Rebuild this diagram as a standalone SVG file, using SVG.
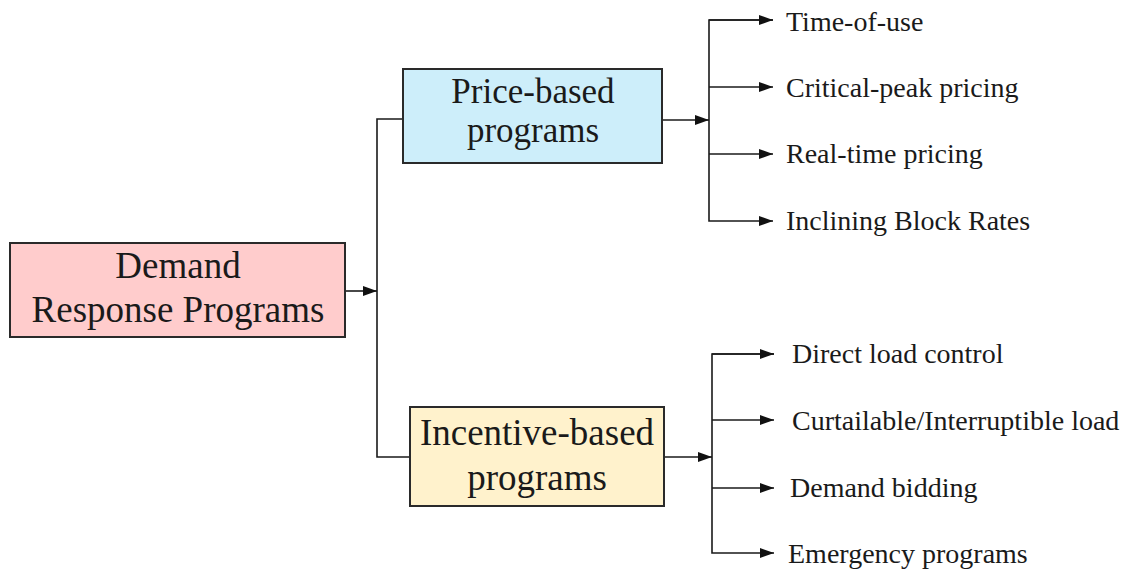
<svg xmlns="http://www.w3.org/2000/svg" width="1131" height="572" viewBox="0 0 1131 572">
<defs>
<marker id="ah" markerWidth="14" markerHeight="10" refX="14" refY="5" orient="auto" markerUnits="userSpaceOnUse">
<path d="M0,0 L14,5 L0,10 Z" fill="#111"/>
</marker>
<style>
.box{stroke:#2a2a2a;stroke-width:2}
.bt{font-family:"Liberation Serif","Times New Roman",serif;font-size:37px;fill:#1a1a1a;text-anchor:middle}
.lt{font-family:"Liberation Serif","Times New Roman",serif;font-size:28px;fill:#1a1a1a}
.ln{fill:none;stroke:#1a1a1a;stroke-width:1.6}
</style>
</defs>
<rect width="1131" height="572" fill="#fff"/>
<g id="connectors">
<line class="ln" x1="346" y1="291" x2="377" y2="291" marker-end="url(#ah)"/>
<polyline class="ln" points="403,119 377,119 377,457 410,457"/>
<line class="ln" x1="662" y1="120" x2="709" y2="120" marker-end="url(#ah)"/>
<polyline class="ln" points="773,20 709,20 709,221 773,221" marker-end="url(#ah)"/>
<line class="ln" x1="709" y1="20" x2="773" y2="20" marker-end="url(#ah)"/>
<line class="ln" x1="709" y1="87" x2="773" y2="87" marker-end="url(#ah)"/>
<line class="ln" x1="709" y1="154" x2="773" y2="154" marker-end="url(#ah)"/>
<line class="ln" x1="664" y1="457" x2="712" y2="457" marker-end="url(#ah)"/>
<polyline class="ln" points="774,354 712,354 712,553 774,553" marker-end="url(#ah)"/>
<line class="ln" x1="712" y1="354" x2="774" y2="354" marker-end="url(#ah)"/>
<line class="ln" x1="712" y1="420" x2="774" y2="420" marker-end="url(#ah)"/>
<line class="ln" x1="712" y1="488" x2="774" y2="488" marker-end="url(#ah)"/>
</g>
<g id="node-demand">
<rect class="box" x="10" y="243" width="335" height="94" fill="#ffcccc"/>
<text class="bt" x="178" y="278">Demand</text>
<text class="bt" x="178" y="322">Response Programs</text>
</g>
<g id="node-price">
<rect class="box" x="403" y="69" width="259" height="94" fill="#cdeefa"/>
<text class="bt" x="533" y="103" style="font-size:35px">Price-based</text>
<text class="bt" x="533" y="142" style="font-size:35px">programs</text>
</g>
<g id="node-incentive">
<rect class="box" x="410" y="407" width="254" height="99" fill="#fff2cc"/>
<text class="bt" x="537" y="445">Incentive-based</text>
<text class="bt" x="537" y="490">programs</text>
</g>
<g id="node-tou"><text class="lt" x="786" y="31">Time-of-use</text></g>
<g id="node-cpp"><text class="lt" x="786" y="97">Critical-peak pricing</text></g>
<g id="node-rtp"><text class="lt" x="786" y="163">Real-time pricing</text></g>
<g id="node-ibr"><text class="lt" x="786" y="230">Inclining Block Rates</text></g>
<g id="node-dlc"><text class="lt" x="792" y="363">Direct load control</text></g>
<g id="node-cil"><text class="lt" x="792" y="430">Curtailable/Interruptible load</text></g>
<g id="node-db"><text class="lt" x="790" y="497">Demand bidding</text></g>
<g id="node-ep"><text class="lt" x="788" y="563">Emergency programs</text></g>
</svg>
